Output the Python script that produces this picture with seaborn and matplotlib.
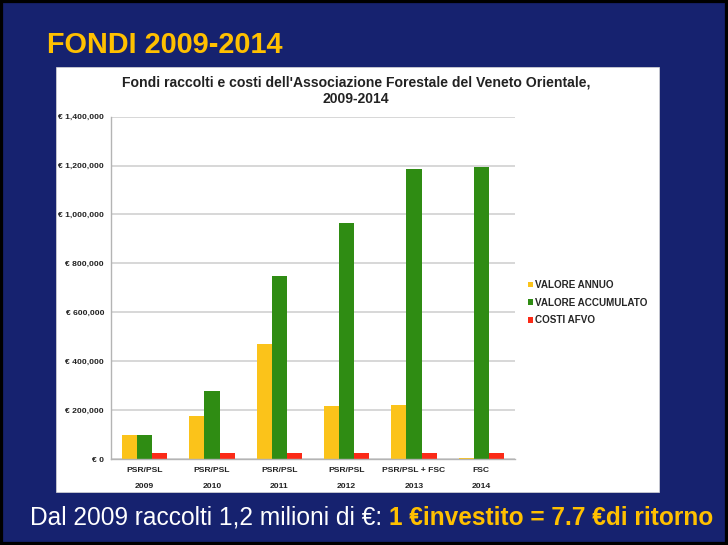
#Recreating the "FONDI 2009-2014" slide with a grouped bar chart.

#Importing libraries.
import numpy as np
import pandas as pd
import matplotlib
matplotlib.use('Agg')
import matplotlib.pyplot as plt
import seaborn as sns
from matplotlib import font_manager
from matplotlib.patches import Rectangle
from matplotlib.ticker import FuncFormatter

#Data.
years = ['2009', '2010', '2011', '2012', '2013', '2014']
programmi = ['PSR/PSL', 'PSR/PSL', 'PSR/PSL', 'PSR/PSL', 'PSR/PSL + FSC', 'FSC']
valore_annuo = [98000, 177000, 470000, 218000, 219000, 5000]
valore_accumulato = [98000, 277000, 748000, 964000, 1185000, 1193000]
costi_afvo = [25000, 25000, 25000, 25000, 25000, 25000]
serie = ['VALORE ANNUO', 'VALORE ACCUMULATO', 'COSTI AFVO']
colori = ['#FBC31A', '#2F8C13', '#FB2A17']

W, H = 728, 545
BLUE = '#16226F'
GOLD = '#FFC000'


def has_font(name):
    try:
        font_manager.findfont(name, fallback_to_default=False)
        return True
    except Exception:
        return False


sns.set_style('white')
plt.rcParams['font.family'] = ['Liberation Sans', 'DejaVu Sans']
narrow = 'Liberation Sans Narrow' if has_font('Liberation Sans Narrow') else 'Liberation Sans'

df = pd.DataFrame({
    'anno': years * 3,
    'valore': valore_annuo + valore_accumulato + costi_afvo,
    'serie': np.repeat(serie, len(years)),
})

fig = plt.figure(figsize=(W / 100, H / 100), dpi=100, facecolor=BLUE)


def fx(x):
    return x / W


def fy(y):
    return 1 - y / H


#White chart panel and slide border.
fig.patches.append(Rectangle((fx(56), fy(492)), (659 - 56) / W, (492 - 67) / H,
                             transform=fig.transFigure, facecolor='white',
                             edgecolor='#d8d8d8', lw=0.5, zorder=-1))
fig.patches.append(Rectangle((0, 0), 1, 1, transform=fig.transFigure, fill=False,
                             edgecolor='black', lw=4.5, zorder=10))

ax = fig.add_axes([fx(111), fy(459), (515 - 111) / W, (459 - 116.7) / H])
ax.patch.set_alpha(0)

sns.barplot(data=df, x='anno', y='valore', hue='serie', hue_order=serie,
            palette=colori, width=0.67, saturation=1, linewidth=0, ax=ax)

handles, labels = ax.get_legend_handles_labels()
ax.get_legend().remove()

ax.set_ylim(0, 1400000)
ax.set_xlim(-0.5, 5.5)
ax.set_yticks(np.arange(0, 1400001, 200000))
ax.yaxis.set_major_formatter(FuncFormatter(lambda v, p: '€ {:,.0f}'.format(v)))
ax.yaxis.grid(True, color='#d4d4d4', lw=1.3)
ax.set_axisbelow(True)
ax.set_xlabel('')
ax.set_ylabel('')
for s in ['top', 'right']:
    ax.spines[s].set_visible(False)
for s in ['left', 'bottom']:
    ax.spines[s].set_color('#b4b4b4')
    ax.spines[s].set_linewidth(1.0)
ax.tick_params(axis='y', length=3, width=0.8, color='#b4b4b4', labelsize=6.1, pad=2)
for t in ax.get_yticklabels():
    t.set_fontweight('bold')
    t.set_color('#222222')

#Category labels with divider ticks.
ax.set_xticks(range(len(years)))
ax.set_xticklabels([])
ax.tick_params(axis='x', which='major', length=0)
ax.set_xticks(np.arange(-0.5, len(years), 1), minor=True)
ax.tick_params(axis='x', which='minor', length=24, width=0.8, color='#b4b4b4')
for i in range(len(years)):
    ax.text(i, -0.034, programmi[i], transform=ax.get_xaxis_transform(),
            ha='center', va='center', fontsize=6.1, fontweight='bold', color='#222222')
    ax.text(i, -0.079, years[i], transform=ax.get_xaxis_transform(),
            ha='center', va='center', fontsize=6.1, fontweight='bold', color='#222222')

fig.legend(handles, labels, loc='upper left', bbox_to_anchor=(fx(528), fy(280)),
           frameon=False, prop=dict(weight='bold', size=7.1),
           handlelength=0.5, handleheight=0.5, handletextpad=0.25,
           labelspacing=0.78, borderaxespad=0, borderpad=0)

#Texts.
t_chart1 = fig.text(fx(356), fy(82.5), "Fondi raccolti e costi dell'Associazione Forestale del Veneto Orientale,",
                    ha='center', va='center', fontsize=9.5, fontweight='bold', color='#222222')
t_chart2 = fig.text(fx(356), fy(99.3), '2009-2014', ha='center', va='center',
                    fontsize=9.5, fontweight='bold', color='#222222')
t_title = fig.text(fx(47), fy(53), 'FONDI 2009-2014', ha='left', va='baseline',
                   fontsize=26, fontweight='bold', color=GOLD, family=narrow)
t_bot1 = fig.text(fx(30), fy(525), 'Dal 2009 raccolti 1,2 milioni di €:', ha='left', va='baseline',
                  fontsize=15, color='white', family=narrow)
t_bot2 = fig.text(fx(30), fy(525), '1 €investito = 7.7 €di ritorno', ha='left', va='baseline',
                  fontsize=15, fontweight='bold', color=GOLD, family=narrow)

#Fit text widths to the reference.
fig.canvas.draw()
r = fig.canvas.get_renderer()


def fit(txt, target):
    w = txt.get_window_extent(r).width
    txt.set_fontsize(txt.get_fontsize() * target / w)


fit(t_chart1, 472)
t_chart2.set_fontsize(t_chart1.get_fontsize())
fit(t_title, 236 if narrow == 'Liberation Sans' else 222)

w1 = t_bot1.get_window_extent(r).width
w2 = t_bot2.get_window_extent(r).width
gap = 0.3 * 15 * 100 / 72
scale = 688 / (w1 + w2 + gap)
fs = 15 * scale
t_bot1.set_fontsize(fs)
t_bot2.set_fontsize(fs)
fig.canvas.draw()
w1 = t_bot1.get_window_extent(r).width
t_bot2.set_x(fx(30 + w1 + 0.3 * fs * 100 / 72))

plt.savefig('out.png', dpi=100, facecolor=fig.get_facecolor())
